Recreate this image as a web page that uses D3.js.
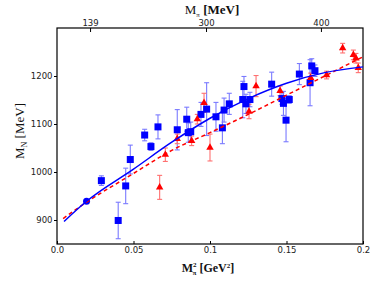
<!DOCTYPE html>
<html>
<head>
<meta charset="utf-8">
<script src="https://d3js.org/d3.v7.min.js"></script>
<style>
  body { margin: 0; background: #fff; }
  .tick text { font-family: "DejaVu Sans", sans-serif; font-size: 8.5px; fill: #222; }
  .tick line { stroke: #000; }
  .lbl { font-family: "Liberation Serif", serif; fill: #111; }
</style>
</head>
<body>
<svg id="chart" width="382" height="288"></svg>
<script>
// blue squares: [Mpi^2, M_N, error]
var blueSq = [
  [0.029, 982, 10], [0.040, 899, 38], [0.0449, 971, 37], [0.0479, 1026, 30],
  [0.0573, 1077, 12], [0.0614, 1053, 8], [0.066, 1094, 25], [0.0786, 1088, 42],
  [0.0848, 1110, 25], [0.0858, 1082, 20], [0.0874, 1084, 20], [0.0941, 1120, 25],
  [0.0978, 1131, 55], [0.1039, 1115, 30], [0.1081, 1092, 33], [0.1092, 1129, 25],
  [0.1126, 1142, 22], [0.1214, 1151, 38], [0.1222, 1178, 21], [0.1235, 1142, 20],
  [0.1261, 1151, 15], [0.1403, 1183, 25], [0.147, 1153, 12], [0.148, 1143, 25],
  [0.1497, 1108, 45], [0.1518, 1151, 8], [0.1584, 1204, 22], [0.1654, 1186, 48],
  [0.1665, 1221, 15], [0.1686, 1211, 12]
];
// physical point
var bluePhys = [[0.0193, 939]];
// red triangles: [Mpi^2, M_N, error]
var redTri = [
  [0.0671, 968, 25], [0.0708, 1036, 14], [0.0786, 1069, 10], [0.088, 1065, 10],
  [0.0917, 1110, 10], [0.0961, 1144, 20], [0.100, 1051, 28], [0.1255, 1126, 15],
  [0.1301, 1179, 22], [0.1458, 1169, 10], [0.1658, 1196, 10], [0.1762, 1202, 8],
  [0.1867, 1258, 10], [0.1937, 1244, 10], [0.1954, 1237, 10], [0.1969, 1217, 10]
];
// fit curves
var blueFit = [[0.0046, 897], [0.0193, 939], [0.05, 1006], [0.075, 1062], [0.1, 1112],
  [0.125, 1153], [0.15, 1185], [0.175, 1207], [0.2, 1219]];
var redFit = [[0.004, 903], [0.0193, 937], [0.05, 997], [0.075, 1045], [0.1, 1082],
  [0.125, 1120], [0.15, 1160], [0.175, 1200], [0.2, 1240]];

var xTicks = [0, 0.05, 0.1, 0.15, 0.2];
var xTickLabels = ["0.0", "0.05", "0.1", "0.15", "0.2"];
var yTicks = [900, 1000, 1100, 1200];
var topTickPos = [0.0216, 0.0974, 0.1725];
var topTickLabels = ["139", "300", "400"];

var svg = d3.select("#chart");
var L = 57, R = 363, T = 28, B = 244;
var x = d3.scaleLinear().domain([0, 0.2]).range([L, R]);
var y = d3.scaleLinear().domain([850, 1300]).range([B, T]);

// axes
svg.append("g").attr("transform", "translate(0," + B + ")")
  .call(d3.axisBottom(x).tickValues(xTicks).tickFormat(function(d, i) { return xTickLabels[i]; })
    .tickSizeInner(-3).tickSizeOuter(0).tickPadding(3))
  .call(function(g) { g.select(".domain").remove(); });
svg.append("g").attr("transform", "translate(" + L + ",0)")
  .call(d3.axisLeft(y).tickValues(yTicks).tickFormat(d3.format("d"))
    .tickSizeInner(3).tickSizeOuter(0).tickPadding(1.5))
  .call(function(g) { g.select(".domain").remove(); });
svg.append("g").attr("transform", "translate(0," + T + ")")
  .call(d3.axisTop(x).tickValues(topTickPos).tickFormat(function(d, i) { return topTickLabels[i]; })
    .tickSizeInner(-4).tickSizeOuter(0).tickPadding(2))
  .call(function(g) { g.select(".domain").remove(); });

svg.append("rect").attr("x", L).attr("y", T).attr("width", R - L).attr("height", B - T)
  .attr("fill", "none").attr("stroke", "#000").attr("stroke-width", 1.2);

// error bars
function errBars(data, color) {
  var g = svg.append("g").attr("stroke", color).attr("stroke-width", 1.1);
  data.forEach(function(d) {
    var cx = x(d[0]), y1 = y(d[1] + d[2]), y2 = y(d[1] - d[2]);
    g.append("line").attr("x1", cx).attr("x2", cx).attr("y1", y1).attr("y2", y2);
    g.append("line").attr("x1", cx - 2.5).attr("x2", cx + 2.5).attr("y1", y1).attr("y2", y1);
    g.append("line").attr("x1", cx - 2.5).attr("x2", cx + 2.5).attr("y1", y2).attr("y2", y2);
  });
}
errBars(blueSq, "#7a7aff");
errBars(redTri, "#ff7070");

svg.append("g").selectAll("rect").data(blueSq).enter().append("rect")
  .attr("x", function(d) { return x(d[0]) - 3.5; })
  .attr("y", function(d) { return y(d[1]) - 3.5; })
  .attr("width", 7).attr("height", 7).attr("fill", "#0000ff");

svg.append("g").selectAll("path").data(redTri).enter().append("path")
  .attr("d", d3.symbol().type(d3.symbolTriangle).size(24))
  .attr("transform", function(d) { return "translate(" + x(d[0]) + "," + y(d[1]) + ")"; })
  .attr("fill", "#ff0000");

svg.append("g").selectAll("circle").data(bluePhys).enter().append("circle")
  .attr("cx", function(d) { return x(d[0]); })
  .attr("cy", function(d) { return y(d[1]); })
  .attr("r", 3.5).attr("fill", "#0000ff");

// fit curves
var line = d3.line().x(function(d) { return x(d[0]); }).y(function(d) { return y(d[1]); })
  .curve(d3.curveMonotoneX);
svg.append("path").datum(redFit).attr("d", line).attr("fill", "none")
  .attr("stroke", "#ff0000").attr("stroke-width", 1.5).attr("stroke-dasharray", "4,3");
svg.append("path").datum(blueFit).attr("d", line).attr("fill", "none")
  .attr("stroke", "#0000ff").attr("stroke-width", 1.5);

// axis titles
var tt = svg.append("text").attr("class", "lbl").attr("x", 212).attr("y", 14)
  .attr("text-anchor", "middle").style("font-size", "13px");
tt.append("tspan").text("M");
tt.append("tspan").attr("dy", 2.5).style("font-size", "7px").text("π");
tt.append("tspan").attr("dy", -2.5).style("font-weight", "bold").text(" [MeV]");

var bt = svg.append("text").attr("class", "lbl").attr("x", 208).attr("y", 272)
  .attr("text-anchor", "middle").style("font-size", "12px").style("font-weight", "bold");
bt.append("tspan").text("M");
bt.append("tspan").attr("dy", -5).style("font-size", "7px").text("2");
bt.append("tspan").attr("dx", -4).attr("dy", 8).style("font-size", "7px").text("π");
bt.append("tspan").attr("dy", -3).text("  [GeV");
bt.append("tspan").attr("dy", -4).style("font-size", "7px").text("2");
bt.append("tspan").attr("dy", 4).text("]");

var yl = svg.append("text").attr("class", "lbl")
  .attr("transform", "translate(24,131) rotate(-90)")
  .attr("text-anchor", "middle").style("font-size", "13px");
yl.append("tspan").text("M");
yl.append("tspan").attr("dy", 3).style("font-size", "8px").text("N");
yl.append("tspan").attr("dy", -3).text(" [MeV]");
</script>
</body>
</html>
